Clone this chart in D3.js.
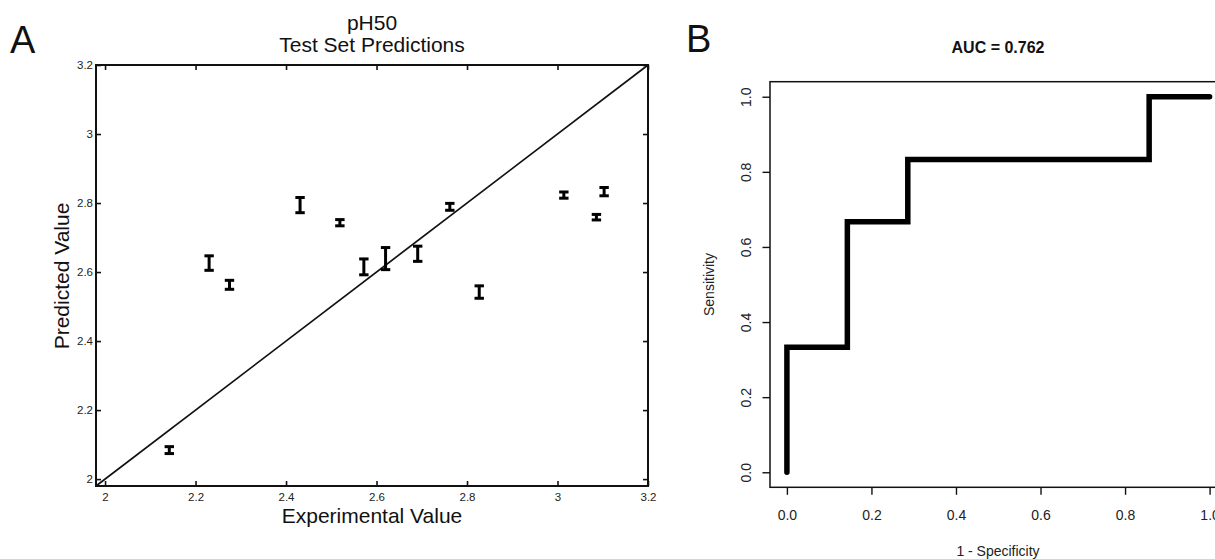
<!DOCTYPE html>
<html>
<head>
<meta charset="utf-8">
<script src="https://cdn.jsdelivr.net/npm/d3@7"></script>
<style>
  body { margin: 0; background: #fff; }
  svg { display: block; font-family: "Liberation Sans", Arial, sans-serif; }
</style>
</head>
<body>
<svg id="chart"></svg>
<script>
var width = 1215, height = 559;

// Panel A: test set predictions (experimental vs predicted, with error bars)
var expValues  = [2.230, 2.275, 2.431, 2.519, 2.572, 2.620, 2.691, 2.762, 2.827, 3.014, 3.086, 3.103, 2.142];
var predValues = [2.626, 2.563, 2.794, 2.743, 2.615, 2.639, 2.653, 2.789, 2.542, 2.823, 2.759, 2.833, 2.084];
var predErrors = [0.021, 0.013, 0.022, 0.009, 0.023, 0.032, 0.022, 0.010, 0.018, 0.009, 0.008, 0.012, 0.010];
var axisTicksA = [2, 2.2, 2.4, 2.6, 2.8, 3, 3.2];
var axisLabelsA = ["2", "2.2", "2.4", "2.6", "2.8", "3", "3.2"];

// Panel B: ROC curve
var rocFpr = [0, 0, 0.143, 0.143, 0.286, 0.286, 0.857, 0.857, 1];
var rocTpr = [0, 0.333, 0.333, 0.667, 0.667, 0.833, 0.833, 1, 1];
var axisTicksB = [0, 0.2, 0.4, 0.6, 0.8, 1];
var aucValue = 0.762;

var svg = d3.select("#chart")
  .attr("width", width)
  .attr("height", height);

// ---------- Panel A ----------
var xA = d3.scaleLinear().domain([1.98, 3.2]).range([96, 648]);
var yA = d3.scaleLinear().domain([1.98, 3.2]).range([486, 65]);
var fmtA = function (d) { return axisLabelsA[axisTicksA.indexOf(d)]; };

var gA = svg.append("g");

function styleAxisA(g) {
  g.select(".domain").remove();
  g.selectAll(".tick line").attr("stroke", "#111").attr("stroke-width", 1.6);
  g.selectAll(".tick text").attr("fill", "#222").style("font-size", "11.5px");
}

gA.append("g")
  .attr("transform", "translate(0,486)")
  .call(d3.axisBottom(xA).tickValues(axisTicksA).tickFormat(fmtA).tickSize(-5).tickPadding(6.5))
  .call(styleAxisA);
gA.append("g")
  .attr("transform", "translate(0,65)")
  .call(d3.axisTop(xA).tickValues(axisTicksA).tickFormat("").tickSize(-5))
  .call(styleAxisA);
gA.append("g")
  .attr("transform", "translate(96,0)")
  .call(d3.axisLeft(yA).tickValues(axisTicksA).tickFormat(fmtA).tickSize(-5).tickPadding(3))
  .call(styleAxisA);
gA.append("g")
  .attr("transform", "translate(648,0)")
  .call(d3.axisRight(yA).tickValues(axisTicksA).tickFormat("").tickSize(-5))
  .call(styleAxisA);

// frame
gA.append("rect")
  .attr("x", xA(1.98)).attr("y", yA(3.2))
  .attr("width", xA(3.2) - xA(1.98)).attr("height", yA(1.98) - yA(3.2))
  .attr("fill", "none").attr("stroke", "#111").attr("stroke-width", 2);

// identity line
gA.append("line")
  .attr("x1", xA(1.98)).attr("y1", yA(1.98))
  .attr("x2", xA(3.2)).attr("y2", yA(3.2))
  .attr("stroke", "#111").attr("stroke-width", 1.7);

// error bars
var bars = gA.selectAll("g.err")
  .data(expValues.map(function (x, i) { return { x: x, y: predValues[i], e: predErrors[i] }; }))
  .enter().append("g").attr("class", "err")
  .attr("stroke", "#000").attr("stroke-width", 3);
bars.append("line")
  .attr("x1", function (d) { return xA(d.x); }).attr("x2", function (d) { return xA(d.x); })
  .attr("y1", function (d) { return yA(d.y - d.e); }).attr("y2", function (d) { return yA(d.y + d.e); });
bars.append("line")
  .attr("x1", function (d) { return xA(d.x) - 4.7; }).attr("x2", function (d) { return xA(d.x) + 4.7; })
  .attr("y1", function (d) { return yA(d.y + d.e); }).attr("y2", function (d) { return yA(d.y + d.e); });
bars.append("line")
  .attr("x1", function (d) { return xA(d.x) - 4.7; }).attr("x2", function (d) { return xA(d.x) + 4.7; })
  .attr("y1", function (d) { return yA(d.y - d.e); }).attr("y2", function (d) { return yA(d.y - d.e); });

// titles and labels
gA.append("text").attr("x", 372).attr("y", 30).attr("text-anchor", "middle")
  .style("font-size", "21px").attr("fill", "#111").text("pH50");
gA.append("text").attr("x", 372).attr("y", 52).attr("text-anchor", "middle")
  .style("font-size", "21px").attr("fill", "#111").text("Test Set Predictions");
gA.append("text").attr("x", 372).attr("y", 523).attr("text-anchor", "middle")
  .style("font-size", "21px").attr("fill", "#111").text("Experimental Value");
gA.append("text").attr("transform", "translate(69,276) rotate(-90)").attr("text-anchor", "middle")
  .style("font-size", "21px").attr("fill", "#111").text("Predicted Value");
svg.append("text").attr("x", 10).attr("y", 53)
  .style("font-size", "38px").attr("fill", "#111").text("A");

// ---------- Panel B ----------
var xB = d3.scaleLinear().domain([-0.04, 1.04]).range([770, 1226.5]);
var yB = d3.scaleLinear().domain([-0.04, 1.04]).range([487.3, 81.7]);
var fmtB = d3.format(".1f");

var gB = svg.append("g");

gB.append("g")
  .attr("transform", "translate(0,487.3)")
  .call(d3.axisBottom(xB).tickValues(axisTicksB).tickFormat(fmtB).tickSize(7.5).tickPadding(15))
  .call(function (g) {
    g.select(".domain").remove();
    g.selectAll(".tick line").attr("stroke", "#111").attr("stroke-width", 1.4);
    g.selectAll(".tick text").attr("fill", "#222").style("font-size", "14px");
  });

gB.append("g")
  .attr("transform", "translate(770,0)")
  .call(d3.axisLeft(yB).tickValues(axisTicksB).tickFormat(fmtB).tickSize(7.5))
  .call(function (g) {
    g.select(".domain").remove();
    g.selectAll(".tick line").attr("stroke", "#111").attr("stroke-width", 1.4);
    g.selectAll(".tick text")
      .attr("fill", "#222").style("font-size", "14px")
      .attr("x", 0).attr("dy", null).attr("y", -19.5)
      .attr("text-anchor", "middle")
      .attr("transform", "rotate(-90)");
  });

gB.append("rect")
  .attr("x", xB(-0.04)).attr("y", yB(1.04))
  .attr("width", xB(1.04) - xB(-0.04)).attr("height", yB(-0.04) - yB(1.04))
  .attr("fill", "none").attr("stroke", "#111").attr("stroke-width", 1.5);

var roc = d3.line()
  .x(function (d) { return xB(d[0]); })
  .y(function (d) { return yB(d[1]); });
gB.append("path")
  .datum(rocFpr.map(function (f, i) { return [f, rocTpr[i]]; }))
  .attr("d", roc)
  .attr("fill", "none").attr("stroke", "#000").attr("stroke-width", 5.5)
  .attr("stroke-linecap", "round").attr("stroke-linejoin", "miter");

gB.append("text").attr("x", 998).attr("y", 53).attr("text-anchor", "middle")
  .style("font-size", "16px").style("font-weight", "bold").attr("fill", "#111")
  .text("AUC = " + aucValue.toFixed(3));
gB.append("text").attr("x", 998).attr("y", 556).attr("text-anchor", "middle")
  .style("font-size", "14px").attr("fill", "#222").text("1 - Specificity");
gB.append("text").attr("transform", "translate(714,284.5) rotate(-90)").attr("text-anchor", "middle")
  .style("font-size", "14px").attr("fill", "#222").text("Sensitivity");
svg.append("text").attr("x", 686).attr("y", 52)
  .style("font-size", "38px").attr("fill", "#111").text("B");
</script>
</body>
</html>
